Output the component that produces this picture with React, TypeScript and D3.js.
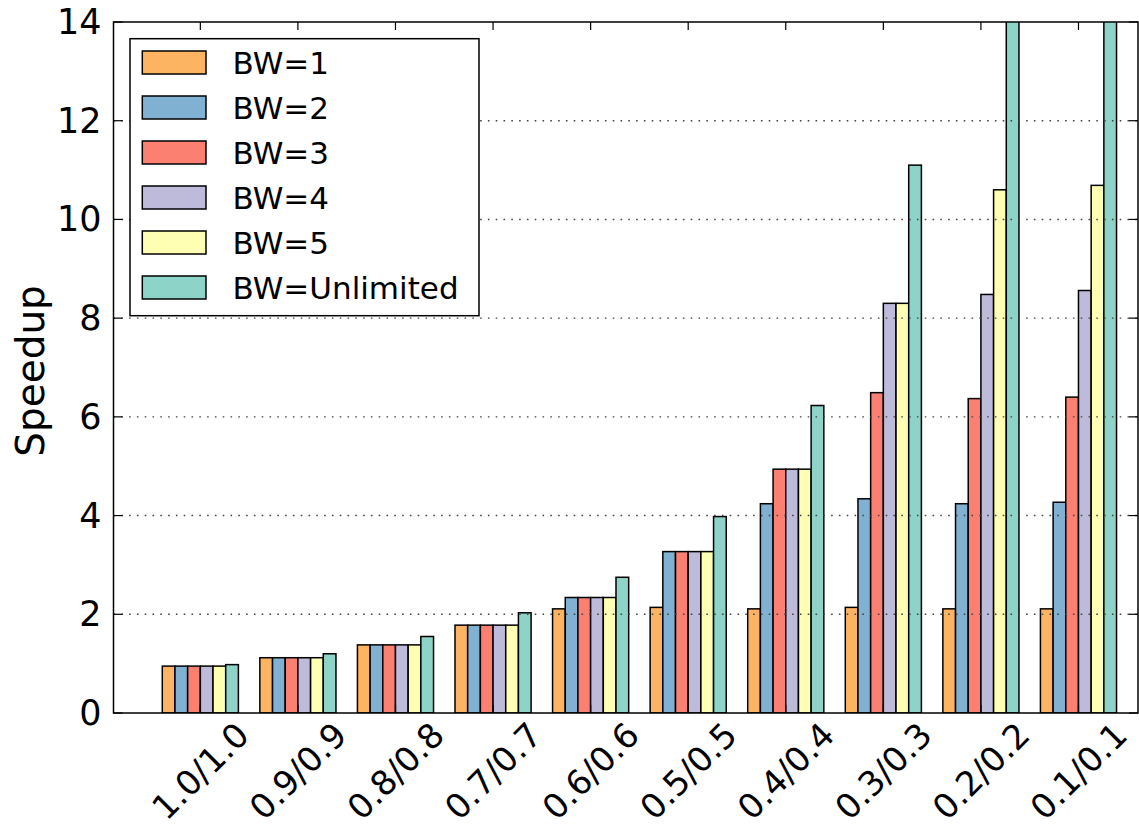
import React from "react";
import * as d3 from "d3";

const categories = ["1.0/1.0", "0.9/0.9", "0.8/0.8", "0.7/0.7", "0.6/0.6", "0.5/0.5", "0.4/0.4", "0.3/0.3", "0.2/0.2", "0.1/0.1"];
const seriesNames = ["BW=1", "BW=2", "BW=3", "BW=4", "BW=5", "BW=Unlimited"];
const colors = ["#fdb462", "#80b1d3", "#fb8072", "#bebada", "#ffffb3", "#8dd3c7"];
const bw1 = [0.95, 1.12, 1.38, 1.78, 2.11, 2.14, 2.11, 2.14, 2.11, 2.11];
const bw2 = [0.95, 1.12, 1.38, 1.78, 2.34, 3.27, 4.24, 4.34, 4.24, 4.27];
const bw3 = [0.95, 1.12, 1.38, 1.78, 2.34, 3.27, 4.94, 6.49, 6.37, 6.40];
const bw4 = [0.95, 1.12, 1.38, 1.78, 2.34, 3.27, 4.94, 8.30, 8.48, 8.56];
const bw5 = [0.95, 1.12, 1.38, 1.78, 2.34, 3.27, 4.94, 8.30, 10.60, 10.69];
const bwUnl = [0.98, 1.20, 1.55, 2.03, 2.75, 3.98, 6.23, 11.10, 16.0, 17.0];
const yTicks = [0, 2, 4, 6, 8, 10, 12, 14];
const series = [bw1, bw2, bw3, bw4, bw5, bwUnl];

const W = 1139, H = 830;
const L = 113.5, R = 1138, T = 22, B = 713;
const barW = 0.13;
const font = "DejaVu Sans";

export default function App() {
  const x = d3.scaleLinear().domain([-0.5, 10]).range([L, R]);
  const y = d3.scaleLinear().domain([0, 14]).range([B, T]);
  const tickPos = categories.map((_, i) => x(i + 0.39));

  return (
    <svg width={W} height={H} style={{ position: "absolute", left: 0, top: 0, background: "#fff" }} fontFamily={font}>
      <defs>
        <clipPath id="plot">
          <rect x={L} y={T} width={R - L} height={B - T} />
        </clipPath>
      </defs>
      <g clipPath="url(#plot)">
        {series.map((vals, s) =>
          vals.map((v, i) => {
            const x0 = x(i + s * barW);
            const x1 = x(i + (s + 1) * barW);
            return (
              <rect key={`${s}-${i}`} x={x0} y={y(v)} width={x1 - x0} height={B - y(v)}
                fill={colors[s]} stroke="#000" strokeWidth={1.5} />
            );
          })
        )}
      </g>
      {yTicks.filter(t => t > 0 && t < 14).map(t => (
        <line key={t} x1={L} x2={R} y1={y(t)} y2={y(t)} stroke="#444" strokeWidth={1.4} strokeDasharray="1.6,6.2" />
      ))}
      {yTicks.map(t => (
        <g key={t}>
          <line x1={L} x2={L + 9} y1={y(t)} y2={y(t)} stroke="#000" strokeWidth={1.2} />
          <line x1={R - 9} x2={R} y1={y(t)} y2={y(t)} stroke="#000" strokeWidth={1.2} />
          <text x={L - 12} y={y(t)} textAnchor="end" dominantBaseline="central" fontSize={35} fill="#000">{t}</text>
        </g>
      ))}
      {tickPos.map((px, i) => (
        <g key={i}>
          <line x1={px} x2={px} y1={T} y2={T + 8} stroke="#000" strokeWidth={1.2} />
          <line x1={px} x2={px} y1={B} y2={B - 8} stroke="#000" strokeWidth={1.2} />
          <text transform={`translate(${px},${771}) rotate(-45)`} textAnchor="middle" dominantBaseline="central" fontSize={34} fill="#000">{categories[i]}</text>
        </g>
      ))}
      <rect x={L} y={T} width={R - L} height={B - T} fill="none" stroke="#000" strokeWidth={1.5} />
      <text transform={`translate(30,${371}) rotate(-90)`} textAnchor="middle" dominantBaseline="central" fontSize={39} fill="#000">Speedup</text>
      <rect x={130} y={38.7} width={349} height={277} fill="#fff" stroke="#000" strokeWidth={1.5} />
      {seriesNames.map((name, s) => {
        const ty = 51 + s * 45;
        return (
          <g key={name}>
            <rect x={142.3} y={ty} width={63.7} height={23} fill={colors[s]} stroke="#000" strokeWidth={1.5} />
            <text x={232.5} y={ty + 11.5} dominantBaseline="central" fontSize={31} fill="#000">{name}</text>
          </g>
        );
      })}
    </svg>
  );
}
